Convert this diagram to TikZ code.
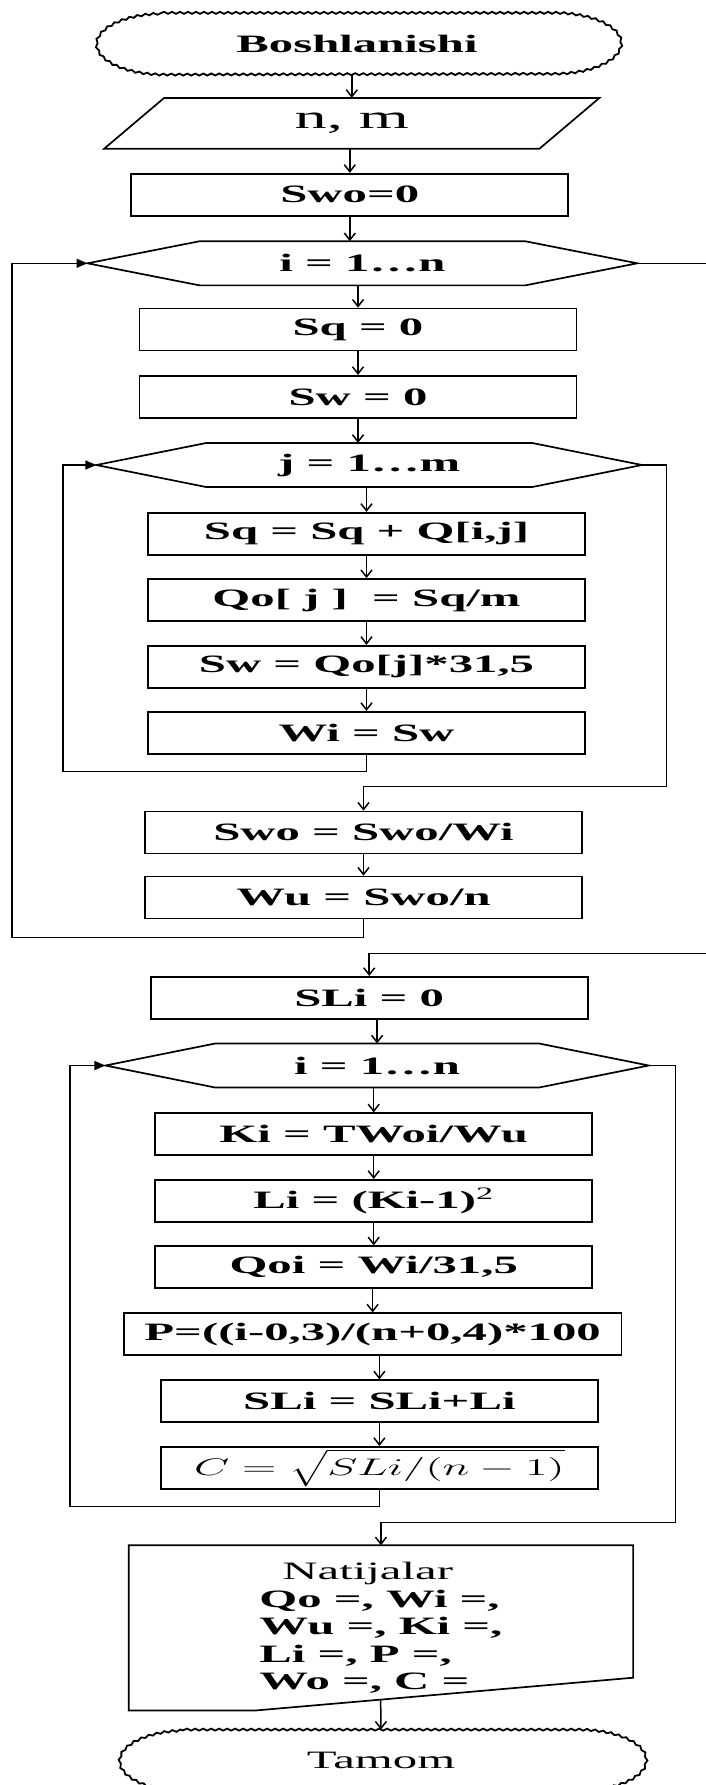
\documentclass[tikz,border=0pt]{standalone}
\usepackage[no-math]{fontspec}
\setmainfont{Liberation Serif}[FakeStretch=1.95]
\usepackage{graphicx}
\usetikzlibrary{arrows.meta,calc,decorations.pathmorphing}

\tikzset{
    txt/.style={font=\fontsize{12.5}{15}\selectfont\bfseries},
    blk/.style={txt, draw, line width=0.85pt, minimum width=218.5pt, minimum height=21pt, inner sep=0pt},
    ghost/.style={txt, minimum height=21.65pt, inner sep=0pt},
    box/.style={line width=0.85pt},
    term/.style={line width=0.9pt, decorate, decoration={snake, amplitude=0.5pt, segment length=4pt}},
    arr/.style={line width=0.75pt, -{Straight Barb[length=3.5pt,width=5.5pt]}},
    back/.style={line width=0.75pt, -{Triangle[length=5.5pt,width=4.5pt]}},
}

% loop header outline drawn round a plain node
\newcommand{\hexa}[2]{%
    \draw[box] (#1.west) -- ([xshift=#2]#1.north west) -- ([xshift=-#2]#1.north east)
        -- (#1.east) -- ([xshift=-#2]#1.south east) -- ([xshift=#2]#1.south west) -- cycle;}
% start / end outline
\newcommand{\termo}[1]{%
    \draw[term] ([xshift=33.5pt]#1.north west) -- ([xshift=-33.5pt]#1.north east)
        arc[start angle=90, end angle=-90, x radius=33.5pt, y radius=15.25pt]
        -- ([xshift=33.5pt]#1.south west)
        arc[start angle=270, end angle=90, x radius=33.5pt, y radius=15.25pt] -- cycle;}

\begin{document}
\begin{tikzpicture}[x=0.5pt, y=-0.5pt]
    \useasboundingbox (0,0) rectangle (706,1785);

    % Start and input
    \node [ghost, minimum width=262pt, minimum height=30.5pt] (start) at (357,43.7) {Boshlanishi};
    \termo{start}
    \node [ghost, minimum width=247.25pt, minimum height=25pt, font=\fontsize{16.5}{18}\selectfont] (inp) at (351.8,123.3) {n, m};
    \draw [box] ([xshift=30pt]inp.north west) -- (inp.north east) -- ([xshift=-30pt]inp.south east) -- (inp.south west) -- cycle;
    \node [blk] (sw0) at (349.8,194.7) {Swo=0};

    % Outer loop over i
    \node [ghost, minimum width=274.5pt] (h1) at (362.4,263.3) {i = 1…n};
    \hexa{h1}{56pt}
    \node [blk] (sq0) at (358,329.5) {Sq = 0};
    \node [blk] (sw1) at (358,396.8) {Sw = 0};

    % Inner loop over j
    \node [ghost, minimum width=272.45pt] (h2) at (369.2,465) {j = 1…m};
    \hexa{h2}{55pt}
    \node [blk] (sqq) at (366.5,533.7) {Sq = Sq + Q[i,j]};
    \node [blk] (qo) at (366.5,600) {Qo[~j~]~~= Sq/m};
    \node [blk] (swq) at (366.5,666.7) {Sw = Qo[j]*31,5};
    \node [blk] (wi) at (366.5,732.8) {Wi = Sw};

    \node [blk] (swo) at (363.5,832.5) {Swo = Swo/Wi};
    \node [blk] (wu) at (363.5,897.5) {Wu = Swo/n};

    % Second loop over i
    \node [blk] (sli0) at (369.2,997.8) {SLi = 0};
    \node [ghost, minimum width=271.3pt] (h3) at (377.1,1065.5) {i = 1…n};
    \hexa{h3}{55pt}
    \node [blk] (ki) at (373.7,1134.2) {Ki = TWoi/Wu};
    \node [blk] (li) at (373.7,1200.8) {Li = (Ki-1)\textsuperscript{\mdseries 2}};
    \node [blk] (qoi) at (373.7,1267.2) {Qoi = Wi/31,5};
    \node [blk, minimum width=248.8pt] (pp) at (372.6,1334.3) {P=((i-0,3)/(n+0,4)*100};
    \node [blk] (sls) at (379.4,1401.2) {SLi = SLi+Li};
    \node [blk] (cc) at (379.4,1467.8) {\scalebox{1.9}[1]{$C = \sqrt{SLi/(n-1)}$}};

    % Output and end
    \node [ghost, minimum width=251.75pt, minimum height=82.15pt, align=left, font=\fontsize{12.5}{13.75}\selectfont\bfseries] (out) at (380.95,1627.85)
        {\hspace*{11.5pt}{\mdseries Natijalar}\\Qo =, Wi =,\\Wu =, Ki =,\\Li =, P =,\\Wo =, C =};
    \coordinate (ocut) at ([xshift=63.75pt]out.south west);
    \coordinate (ocor) at ([yshift=16.35pt]out.south east);
    \draw [box] (out.north west) -- (out.north east) -- (ocor) -- (ocut) -- (out.south west) -- cycle;
    \node [ghost, minimum width=263pt, minimum height=30.5pt, font=\fontsize{12.5}{15}\selectfont] (stop) at (381,1760.5) {Tamom};
    \termo{stop}

    % Straight arrows
    \draw [arr] (start.south -| inp) -- (inp.north);
    \draw [arr] (inp.south -| sw0) -- (sw0.north);
    \draw [arr] (sw0.south) -- (sw0 |- h1.north);
    \draw [arr] (h1.south -| sq0) -- (sq0.north);
    \draw [arr] (sq0.south) -- (sw1.north);
    \draw [arr] (sw1.south) -- (sw1 |- h2.north);
    \draw [arr] (h2.south -| sqq) -- (sqq.north);
    \draw [arr] (sqq.south) -- (qo.north);
    \draw [arr] (qo.south) -- (swq.north);
    \draw [arr] (swq.south) -- (wi.north);
    \draw [arr] (swo.south) -- (wu.north);
    \draw [arr] (sli0.south -| h3) -- (h3.north);
    \draw [arr] (h3.south -| ki) -- (ki.north);
    \draw [arr] (ki.south) -- (li.north);
    \draw [arr] (li.south) -- (qoi.north);
    \draw [arr] (qoi.south -| pp) -- (pp.north);
    \draw [arr] (pp.south -| sls) -- (sls.north);
    \draw [arr] (sls.south) -- (cc.north);
    \draw [arr] ($(ocut)!0.33!(ocor)$) -- (stop.north);

    % Loop returns and exits
    \coordinate (jl) at (63,771.7);
    \coordinate (jr) at (666.5,786.7);
    \draw [back] (wi.south) |- (jl) |- (h2.west);
    \draw [arr] (h2.east) -| (jr) -| (swo.north);
    \coordinate (il) at (12.2,937.7);
    \coordinate (ir) at (708,953.3);
    \draw [back] (wu.south) |- (il) |- (h1.west);
    \draw [arr] (h1.east) -| (ir) -| (sli0.north);
    \coordinate (kl) at (69.8,1506.7);
    \coordinate (kr) at (675.5,1522.7);
    \draw [back] (cc.south) |- (kl) |- (h3.west);
    \draw [arr] (h3.east) -| (kr) -| (out.north);

\end{tikzpicture}
\end{document}
